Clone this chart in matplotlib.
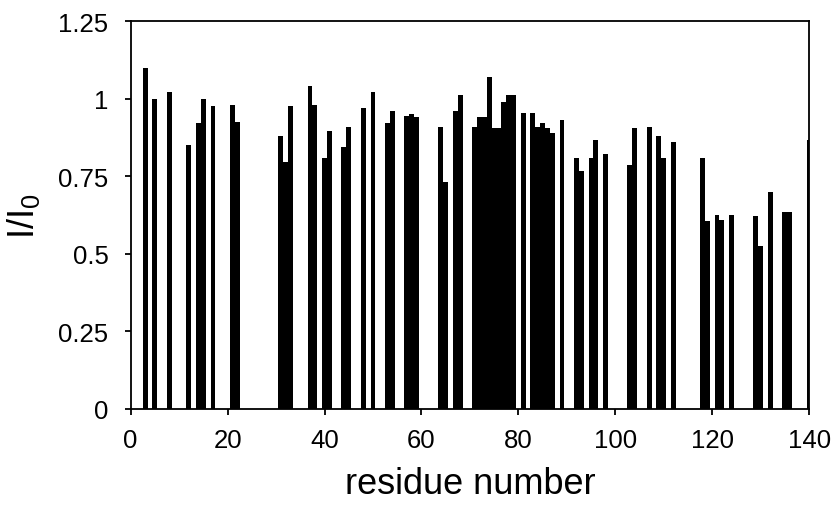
import matplotlib
matplotlib.use("Agg")
import matplotlib.pyplot as plt

plt.rcParams['font.family'] = ['Liberation Sans', 'DejaVu Sans']

# residue numbers and relative intensities I/I0
residues = [3, 5, 8, 12, 14, 15, 17, 21, 22,
            31, 32, 33, 37, 38, 40, 41, 44, 45, 48, 50, 53, 54, 57, 58, 59,
            64, 65, 67, 68, 71, 72, 73, 74, 75, 76, 77, 78, 79, 81, 83, 84,
            85, 86, 87, 89, 92, 93, 95, 96, 98, 103, 104, 107, 109, 110, 112,
            118, 119, 121, 122, 124, 129, 130, 132, 135, 136, 140]
ratio = [1.10, 1.00, 1.02, 0.85, 0.92, 1.00, 0.975, 0.98, 0.925,
         0.88, 0.795, 0.975, 1.04, 0.98, 0.81, 0.895, 0.845, 0.91, 0.97, 1.02, 0.92, 0.96, 0.945, 0.95, 0.94,
         0.91, 0.73, 0.96, 1.01, 0.91, 0.94, 0.94, 1.07, 0.905, 0.905, 0.99, 1.01, 1.01, 0.955, 0.955, 0.91,
         0.92, 0.905, 0.89, 0.93, 0.81, 0.765, 0.81, 0.865, 0.82, 0.785, 0.905, 0.91, 0.88, 0.81, 0.86,
         0.81, 0.605, 0.625, 0.61, 0.625, 0.62, 0.525, 0.70, 0.635, 0.635, 0.865]

xticks = [0, 20, 40, 60, 80, 100, 120, 140]
yticks = [0, 0.25, 0.5, 0.75, 1, 1.25]
ytick_labels = ['0', '0.25', '0.5', '0.75', '1', '1.25']

fig = plt.figure(figsize=(8.35, 5.06), dpi=100)
ax = fig.add_axes([0.1565, 0.19, 0.8125, 0.7665])

ax.bar(residues, ratio, width=1.0, color='black', linewidth=0)

ax.set_xlim(0, 140)
ax.set_ylim(0, 1.25)
ax.set_xticks(xticks)
ax.set_yticks(yticks)
ax.set_yticklabels(ytick_labels)

for s in ax.spines.values():
    s.set_linewidth(1.3)
    s.set_color('black')

ax.tick_params(direction='out', length=4, width=1.3, labelsize=18.5)
ax.tick_params(axis='x', pad=10)
ax.tick_params(axis='y', pad=12)

ax.set_xlabel('residue number', fontsize=26, labelpad=10)
ax.set_ylabel(r'I/I$_\mathregular{0}$', fontsize=26, labelpad=12)

fig.savefig('out.png', dpi=100)
